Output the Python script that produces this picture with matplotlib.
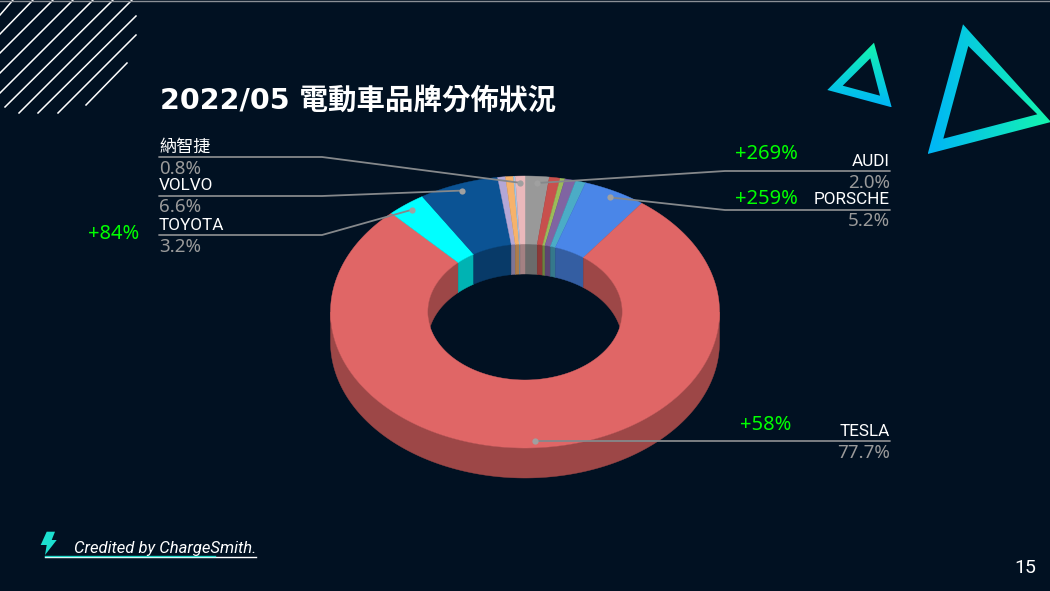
import numpy as np
import matplotlib
matplotlib.use('Agg')
import matplotlib.pyplot as plt
from matplotlib.patches import PathPatch, Polygon
from matplotlib.path import Path
from matplotlib.colors import LinearSegmentedColormap, to_rgb

# slices run clockwise from twelve o'clock
shares = [2.0, 0.9, 0.4, 0.9, 0.85, 5.2, 77.7, 3.2, 6.6, 0.65, 0.65, 0.15, 0.8]
colors = ['#999999', '#C8504D', '#9BBB59', '#8064A2', '#4BACC6', '#4A86E8', '#E06666',
          '#00FFFF', '#0B5394', '#B4A7D6', '#F6B26B', '#9FC5E8', '#EAB8BB']

# brand, slice index, share text, text side, line y
callout_names = ['AUDI', 'PORSCHE', 'TESLA', 'TOYOTA', 'VOLVO', '納智捷']
callout_slices = [0, 5, 6, 7, 8, 12]
callout_shares = [2.0, 5.2, 77.7, 3.2, 6.6, 0.8]
callout_line_y = [171, 210, 441, 235, 196, 157]

growth_labels = ['+269%', '+259%', '+58%', '+84%']
growth_pos = [(766, 154), (766, 199), (766, 425), (114, 234)]

BG = '#011122'
CX, CY = 525, 312
RX, RY = 194.5, 136
HOLE = 0.5
DEPTH = 30
FONTS = ['Roboto', 'Noto Sans CJK TC', 'DejaVu Sans']


def darker(c, k=0.7):
    return tuple(v * k for v in to_rgb(c))


def rim(theta, frac=1.0, drop=0):
    # theta in degrees, clockwise from the top of the ellipse
    t = np.radians(theta)
    return np.column_stack([CX + frac * RX * np.sin(t), CY - frac * RY * np.cos(t) + drop])


def gradient_shape(ax, outer, inner, p0, p1, c0, c1):
    # ring-shaped triangle filled with a linear gradient from p0 to p1
    inner = list(inner)[::-1]
    verts = list(outer) + [outer[0]] + inner + [inner[0]]
    codes = [Path.MOVETO, Path.LINETO, Path.LINETO, Path.CLOSEPOLY] * 2
    patch = PathPatch(Path(verts, codes), fc='none', ec='none')
    ax.add_patch(patch)
    xs = [p[0] for p in outer]
    ys = [p[1] for p in outer]
    x0, x1, y0, y1 = min(xs), max(xs), min(ys), max(ys)
    gx, gy = np.meshgrid(np.linspace(x0, x1, 200), np.linspace(y0, y1, 200))
    dx, dy = p1[0] - p0[0], p1[1] - p0[1]
    g = ((gx - p0[0]) * dx + (gy - p0[1]) * dy) / (dx * dx + dy * dy)
    cmap = LinearSegmentedColormap.from_list('tri', [c0, c1])
    im = ax.imshow(g, extent=(x0, x1, y1, y0), cmap=cmap, vmin=0, vmax=1,
                   aspect='auto', zorder=2, interpolation='bilinear')
    im.set_clip_path(patch)


fig = plt.figure(figsize=(10.5, 5.91), dpi=100, facecolor=BG)
ax = fig.add_axes((0, 0, 1, 1))
ax.set_facecolor(BG)
ax.axis('off')

# corner decoration
stripes = [((0, 15), (13, 0)), ((0, 34), (33, 0)), ((0, 53), (53, 0)), ((0, 73), (73, 0)),
           ((0, 93), (93, 0)), ((5, 107), (113, 0)), ((19, 113), (132, 0)),
           ((38, 113), (136, 16)), ((58, 113), (136, 35)), ((86, 105), (127, 63))]
for a, b in stripes:
    ax.plot([a[0], b[0]], [a[1], b[1]], color='white', lw=1.1, zorder=2)
ax.plot([0, 1050], [0.5, 0.5], color='#8a8f96', lw=1, zorder=2)

gradient_shape(ax, [(963, 24.3), (1051, 122), (927.7, 154)],
               [(968.3, 46), (1037.3, 114.3), (943.3, 138.7)],
               (932, 130), (1048, 125), '#00B7F5', '#14F5B0')
gradient_shape(ax, [(874, 42.7), (891.7, 107.3), (827.3, 90)],
               [(870.3, 58.3), (880, 95.7), (842.7, 85.7)],
               (874, 45), (870, 105), '#14F5B0', '#00B7F5')

# donut: outer side, inner wall, then the top face
edges = np.concatenate([[0], np.cumsum(shares)]) * 3.6
for i, color in enumerate(colors):
    start, stop = edges[i], edges[i + 1]

    a = max(start, 90)
    b = min(stop, 270)
    if b > a:
        th = np.linspace(a, b, 300)
        side = np.vstack([rim(th), rim(th[::-1], drop=DEPTH)])
        ax.add_patch(Polygon(side, fc=darker(color), ec=darker(color), lw=0.3, zorder=3))

    for a, b in [(start, min(stop, 90)), (max(start, 270), stop)]:
        if b > a:
            th = np.linspace(a, b, 100)
            wall = np.vstack([rim(th, HOLE), rim(th[::-1], HOLE, DEPTH)])
            ax.add_patch(Polygon(wall, fc=darker(color), ec=darker(color), lw=0.3, zorder=3))

for i, color in enumerate(colors):
    th = np.linspace(edges[i], edges[i + 1], max(int(edges[i + 1] - edges[i]) * 2, 6))
    face = np.vstack([rim(th), rim(th[::-1], HOLE)])
    ax.add_patch(Polygon(face, fc=color, ec=color, lw=0.3, zorder=4))

# callouts
for name, idx, share, ly in zip(callout_names, callout_slices, callout_shares, callout_line_y):
    mid = (edges[idx] + edges[idx + 1]) / 2
    px, py = rim(mid, 0.95)[0]
    left = px < CX and name != 'AUDI'
    if left:
        xs, ys = [159, 322, px], [ly, ly, py]
        tx, ha = 159, 'left'
    elif name == 'TESLA':
        xs, ys = [890, px], [ly, py]
        tx, ha = 890, 'right'
    else:
        xs, ys = [890, 725, px], [ly, ly, py]
        tx, ha = 890, 'right'
    ax.plot(xs, ys, color='#85888b', lw=1.3, zorder=5, solid_capstyle='round')
    ax.plot(px, py, 'o', color='#a0a0a0', ms=4.5, mew=0, zorder=6)
    ax.text(tx, ly - 10, name, color='white', fontsize=12.3, ha=ha, va='center', family=FONTS, zorder=6)
    ax.text(tx, ly + 11.5, f'{share:.1f}%', color='#9a9a9a', fontsize=13.5, ha=ha, va='center',
            family=['Noto Sans', 'DejaVu Sans'], zorder=6)

for text, pos in zip(growth_labels, growth_pos):
    ax.text(pos[0], pos[1], text, color='#00FF00', fontsize=14.5, ha='center', va='center',
            family=['Noto Sans', 'DejaVu Sans'], zorder=6)

ax.text(160, 101, '2022/05 電動車品牌分佈狀況', color='white', fontsize=20.5, fontweight='bold',
        ha='left', va='center', family=['DejaVu Sans', 'Noto Sans CJK TC'], zorder=6)

# footer
bolt = [(46.7, 531.7), (55, 531.7), (51.7, 540), (56.7, 540), (45, 555), (46.7, 545), (40.7, 545)]
ax.add_patch(Polygon(bolt, fc='#1CE0D0', ec='none', zorder=5))
ax.plot([45, 256], [556.6, 556.6], color='white', lw=1, zorder=5)
ax.plot([45, 215], [555.6, 555.6], color='#1CD8C8', lw=1, zorder=5)
ax.text(74, 548, 'Credited by ChargeSmith.', color='white', fontsize=11.95, style='italic',
        ha='left', va='center', family=FONTS, zorder=6)
ax.text(1025, 568, '15', color='white', fontsize=14, ha='center', va='center', family=FONTS, zorder=6)

ax.set_xlim(0, 1050)
ax.set_ylim(591, 0)
fig.savefig('out.png', dpi=100, facecolor=BG)
plt.close(fig)
